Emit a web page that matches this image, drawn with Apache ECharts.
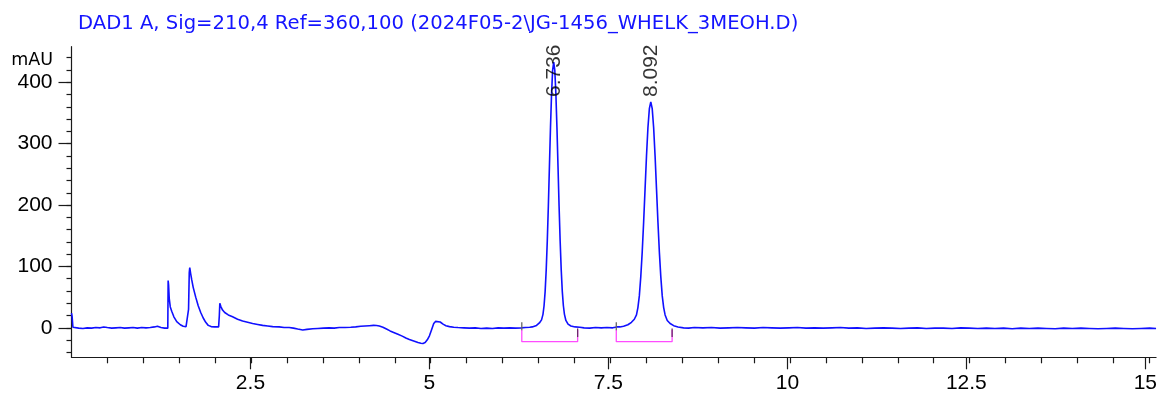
<!DOCTYPE html>
<html>
<head>
<meta charset="utf-8">
<script src="https://cdn.jsdelivr.net/npm/echarts@6/dist/echarts.min.js"></script>
<style>
  html, body { margin: 0; padding: 0; background: #fff; }
  #chart { width: 1160px; height: 394px; }
</style>
</head>
<body>
<div id="chart"></div>
<script>
// DAD1 A chromatogram, 210 nm signal
const signalTitle = 'DAD1 A, Sig=210,4 Ref=360,100 (2024F05-2\\JG-1456_WHELK_3MEOH.D)';
const yUnit = 'mAU';
const xMajorTicks = [2.5, 5, 7.5, 10, 12.5, 15];
const yMajorTicks = [0, 100, 200, 300, 400];

// trace segments: [retention time (min), absorbance (mAU)]
const traceEarly = [
  [0, 24], [0.008, 19], [0.02, 1], [0.04, -1.5], [0.1, -0.5], [0.16, -1], [0.22, 0], [0.28, -0.5],
  [0.34, 0.5], [0.40, 0], [0.45, 1.5], [0.50, 0.5], [0.56, -0.5], [0.62, 0], [0.68, 0.5], [0.74, -0.5],
  [0.80, 0], [0.86, 0.5], [0.92, -0.5], [0.98, 0.5], [1.04, 0], [1.10, 0.5], [1.16, 1.5], [1.20, 2.5],
  [1.25, 0.5], [1.30, -0.5], [1.345, -0.5],
  [1.35, 77], [1.356, 70], [1.365, 48], [1.38, 34], [1.40, 27], [1.43, 18], [1.47, 10], [1.52, 5],
  [1.56, 2.5], [1.60, 2], [1.625, 3], [1.635, 30], [1.645, 90], [1.652, 98], [1.665, 88], [1.68, 78],
  [1.70, 66], [1.735, 50], [1.77, 36], [1.805, 25], [1.84, 16], [1.875, 9], [1.91, 4], [1.95, 2],
  [2.00, 1.5], [2.055, 1.5], [2.065, 20], [2.072, 40], [2.085, 35], [2.11, 29], [2.14, 25], [2.19, 21],
  [2.25, 18], [2.32, 14], [2.39, 11], [2.46, 9], [2.53, 7], [2.60, 5.5], [2.67, 4], [2.74, 3],
  [2.81, 2], [2.90, 1.5], [2.97, 0.5], [3.04, 0.5], [3.10, -0.5], [3.16, -2], [3.23, -3.5], [3.29, -2.5],
  [3.37, -1.5], [3.44, -1], [3.52, -0.5], [3.60, 0], [3.67, -0.5], [3.74, 0.5], [3.82, 0.5], [3.90, 1],
  [3.97, 1.5], [4.04, 2.5], [4.10, 3], [4.16, 3.5], [4.22, 4], [4.26, 3.8], [4.30, 3], [4.35, 1],
  [4.40, -2], [4.45, -5], [4.50, -7.5], [4.56, -10.5], [4.62, -13.5], [4.67, -16.5], [4.72, -19], [4.78, -21.5],
  [4.84, -24], [4.88, -25], [4.91, -25.5], [4.94, -24], [4.97, -19.5], [5.00, -13], [5.03, -3], [5.06, 7],
  [5.085, 10.5], [5.11, 11], [5.15, 9.5], [5.19, 6], [5.23, 3.5], [5.28, 2], [5.34, 1], [5.40, 0.5],
  [5.48, 0], [5.56, -0.5], [5.64, 0], [5.72, -1], [5.80, -0.5], [5.88, -1], [5.96, 0], [6.04, -0.5],
  [6.12, 0], [6.20, -0.5], [6.28, 0], [6.34, 0.5]
];
const tracePeak1 = [
  [6.40, 1], [6.436, 1.5], [6.496, 4], [6.536, 8], [6.566, 13], [6.586, 22], [6.601, 36], [6.616, 59],
  [6.631, 94], [6.646, 141], [6.661, 198], [6.676, 263], [6.691, 327], [6.706, 382], [6.721, 420], [6.736, 433],
  [6.751, 420], [6.766, 382], [6.781, 327], [6.796, 263], [6.811, 198], [6.826, 141], [6.841, 94], [6.856, 59],
  [6.871, 36], [6.886, 22], [6.906, 12], [6.936, 6], [6.976, 3], [7.036, 1.5], [7.10, 1]
];
const traceMid = [
  [7.16, 0], [7.24, -0.5], [7.32, 0.5], [7.40, 0], [7.48, 0.5], [7.56, 0], [7.62, 1.5], [7.66, 1.5]
];
const tracePeak2 = [
  [7.712, 2.5], [7.772, 5], [7.822, 9], [7.862, 14], [7.892, 21], [7.912, 33], [7.932, 52], [7.952, 83],
  [7.972, 123], [7.992, 172], [8.012, 226], [8.032, 280], [8.052, 326], [8.072, 357], [8.092, 368], [8.112, 357],
  [8.132, 326], [8.152, 280], [8.172, 226], [8.192, 172], [8.212, 123], [8.232, 83], [8.252, 52], [8.272, 33],
  [8.292, 21], [8.322, 12], [8.362, 7], [8.412, 3.5], [8.472, 1.5]
];
const traceLate = [
  [8.55, 0], [8.62, -0.5], [8.70, 0.5], [8.82, 0], [8.94, 0.5], [9.06, -0.5], [9.18, 0], [9.30, 0.5],
  [9.42, 0], [9.54, -0.5], [9.66, 0.5], [9.78, 0], [9.90, -0.5], [10.02, 0], [10.14, 0.5], [10.26, -0.5],
  [10.38, 0], [10.50, -0.5], [10.62, 0], [10.74, 0.5], [10.86, -0.5], [10.98, 0], [11.10, -1], [11.22, -0.5],
  [11.34, 0], [11.46, -0.5], [11.58, -1], [11.70, -0.5], [11.82, 0], [11.94, -1], [12.06, -0.5], [12.18, -0.5],
  [12.30, -1], [12.42, 0], [12.54, -0.5], [12.66, -1], [12.78, -0.5], [12.90, -1], [13.02, -0.5], [13.14, -1.5],
  [13.26, -0.5], [13.38, -1], [13.50, -0.5], [13.62, -1], [13.74, -1.5], [13.86, -0.5], [13.98, -1], [14.10, -0.5],
  [14.22, -1], [14.34, -1.5], [14.46, -1], [14.58, -0.5], [14.70, -1], [14.82, -1.5], [14.94, -1], [15.06, -0.5],
  [15.15, -1]
];

// integrated peaks
const peakTimes = [6.736, 8.092];
const peakHeights = [433, 368];
const peakStart = [6.29, 7.61];
const peakEnd = [7.07, 8.39];

const trace = traceEarly.concat(tracePeak1, traceMid, tracePeak2, traceLate);

const W = 1160, H = 394;
const X_MIN = 0, X_MAX = 15.15, Y_MIN = -48, Y_MAX = 458;
const X_MINOR_STEP = 0.5, Y_MINOR_STEP = 20;
const X_MINOR_FIRST = 0.5, X_MINOR_LAST = 15, Y_MINOR_FIRST = -40, Y_MINOR_LAST = 440;
const FONT = "'Liberation Sans', Arial, Helvetica, sans-serif";
const WIDE_FONT = "'DejaVu Sans', Verdana, sans-serif";
const AXIS_COLOR = '#1a1a1a';
const BASELINE_Y = -22.5;    // integration baseline drawn below the trace
const LABEL_CEIL = 376;      // highest anchor for a retention-time label

// plot box (pixels)
const box = { left: 71.5, right: 0, top: 46.7, bottom: 36.7 };
const plotW = W - box.left - box.right, plotH = H - box.top - box.bottom;
const pxX = plotW / (X_MAX - X_MIN), pxY = plotH / (Y_MAX - Y_MIN);

// minor-tick grids share the data scale but span whole tick steps only
const xMinorBox = {
  left: box.left + (X_MINOR_FIRST - X_MIN) * pxX,
  right: box.right + (X_MAX - X_MINOR_LAST) * pxX,
  top: box.top, bottom: box.bottom, containLabel: false
};
const yMinorBox = {
  left: box.left, right: box.right,
  top: box.top + (Y_MAX - Y_MINOR_LAST) * pxY,
  bottom: box.bottom + (Y_MINOR_FIRST - Y_MIN) * pxY, containLabel: false
};

const series = [{
  type: 'line',
  data: trace,
  showSymbol: false,
  symbol: 'none',
  lineStyle: { color: '#1010ff', width: 1.6 },
  z: 3,
  animation: false
}];

peakTimes.forEach((t, i) => {
  const s = peakStart[i], e = peakEnd[i];
  series.push({
    type: 'line', symbol: 'none', animation: false, z: 2,
    lineStyle: { color: '#ff4cff', width: 1.3 },
    data: [[s, -3.7], [s, BASELINE_Y], [e, BASELINE_Y], [e, -3.7]]
  });
  series.push({
    type: 'line', symbol: 'none', animation: false, z: 4,
    lineStyle: { color: '#666', width: 1.3 },
    data: [[s, 9], [s, -4]]
  });
  series.push({
    type: 'line', symbol: 'none', animation: false, z: 4,
    lineStyle: { color: '#6a2a6a', width: 1.3 },
    data: [[e, -1], [e, -15]]
  });
});

series.push({
  type: 'scatter',
  symbolSize: 0,
  itemStyle: { color: 'transparent' },
  animation: false,
  z: 5,
  data: peakTimes.map((t, i) => [t, Math.min(peakHeights[i] + 8, LABEL_CEIL)]),
  label: {
    show: true,
    formatter: p => p.value[0].toFixed(3),
    position: [0, 0],
    rotate: 90,
    align: 'left',
    verticalAlign: 'middle',
    fontSize: 21,
    fontFamily: FONT,
    color: '#000'
  }
});

const tickLine = { color: AXIS_COLOR, width: 1.2 };
const hiddenAxis = (gridIndex, min, max) => ({
  type: 'value', gridIndex, min, max, show: false, axisLine: { onZero: false }
});

const chart = echarts.init(document.getElementById('chart'), null, { renderer: 'canvas' });
chart.setOption({
  animation: false,
  backgroundColor: '#fff',
  title: {
    text: signalTitle,
    left: 73, top: 9,
    textStyle: { color: '#1414ff', fontSize: 19.6, fontWeight: 'normal', fontFamily: WIDE_FONT }
  },
  graphic: [{
    type: 'text',
    right: W - 53, top: 51,
    style: { text: yUnit, fontSize: 17.5, fontFamily: WIDE_FONT, fill: '#000', textAlign: 'right' }
  }],
  grid: [
    Object.assign({ containLabel: false }, box),
    xMinorBox,
    yMinorBox
  ],
  xAxis: [{
    type: 'value', gridIndex: 0, min: X_MIN, max: X_MAX, position: 'bottom',
    axisLine: { show: true, onZero: false, lineStyle: { color: AXIS_COLOR, width: 1.2 } },
    axisTick: { show: true, customValues: xMajorTicks, length: 12, lineStyle: tickLine },
    axisLabel: { show: true, customValues: xMajorTicks, margin: 15, fontSize: 21, fontFamily: FONT, color: '#000',
      formatter: v => String(v) },
    splitLine: { show: false }
  }, {
    type: 'value', gridIndex: 1, min: X_MINOR_FIRST, max: X_MINOR_LAST, interval: X_MINOR_STEP, position: 'bottom',
    axisLine: { show: false, onZero: false },
    axisTick: { show: true, length: 6, lineStyle: tickLine },
    axisLabel: { show: false },
    splitLine: { show: false }
  },
    hiddenAxis(2, X_MIN, X_MAX)
  ],
  yAxis: [{
    type: 'value', gridIndex: 0, min: Y_MIN, max: Y_MAX, position: 'left',
    axisLine: { show: true, onZero: false, lineStyle: { color: AXIS_COLOR, width: 1.2 } },
    axisTick: { show: true, customValues: yMajorTicks, length: 13, lineStyle: tickLine },
    axisLabel: { show: true, customValues: yMajorTicks, margin: 19, fontSize: 21, fontFamily: FONT, color: '#000' },
    splitLine: { show: false }
  },
    hiddenAxis(1, Y_MIN, Y_MAX),
  {
    type: 'value', gridIndex: 2, min: Y_MINOR_FIRST, max: Y_MINOR_LAST, interval: Y_MINOR_STEP, position: 'left',
    axisLine: { show: false, onZero: false },
    axisTick: { show: true, length: 5, lineStyle: tickLine },
    axisLabel: { show: false },
    splitLine: { show: false }
  }],
  series: series.map(s => Object.assign({ xAxisIndex: 0, yAxisIndex: 0 }, s))
});
</script>
</body>
</html>
